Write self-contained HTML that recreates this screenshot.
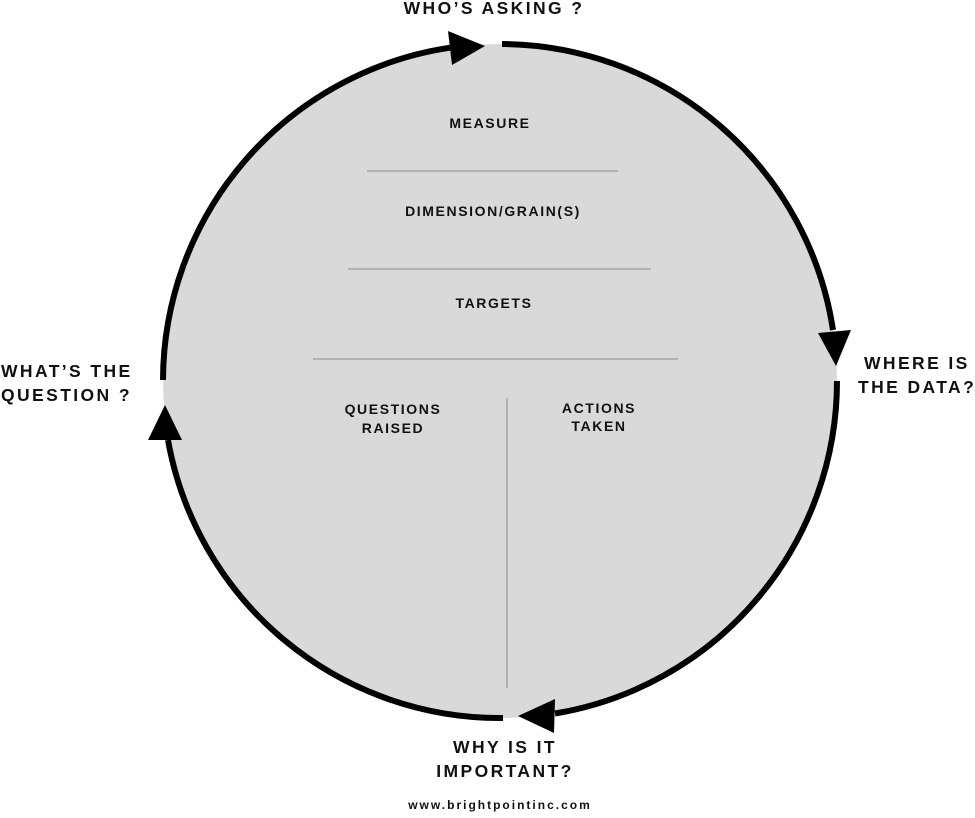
<!DOCTYPE html>
<html><head><meta charset="utf-8"><style>
html,body{margin:0;padding:0;background:#fff;}
body{width:975px;height:813px;overflow:hidden;}
svg text{font-family:"Liberation Sans",sans-serif;font-weight:bold;fill:#111;}
.in{font-size:14px;letter-spacing:1.6px;}
.out{font-size:17.5px;letter-spacing:2.4px;}
</style></head><body>
<svg width="975" height="813" viewBox="0 0 975 813" xmlns="http://www.w3.org/2000/svg">
<circle cx="500" cy="381" r="337" fill="#d9d9d9"/>
<g fill="none" stroke="#000" stroke-width="6">
<path d="M502 44 A337 337 0 0 1 833 330"/>
<path d="M837 381 A337 337 0 0 1 555 713.5"/>
<path d="M503 718 A337 337 0 0 1 168 440"/>
<path d="M163 380 A337 337 0 0 1 450 47.7"/>
</g>
<g fill="#000">
<polygon points="818,333 851,330 836,366"/>
<polygon points="518,716 555,699 554,733"/>
<polygon points="165,405 148,440 182,440"/>
<polygon points="485,46 448,31 452,65"/>
</g>
<g stroke="#9a9a9a" stroke-width="1.2">
<line x1="367" y1="171" x2="618" y2="171"/>
<line x1="348" y1="269" x2="651" y2="269"/>
<line x1="313" y1="359" x2="678" y2="359"/>
<line x1="507" y1="398" x2="507" y2="688"/>
</g>
<g text-anchor="middle">
<text x="490" y="128" class="in">MEASURE</text>
<text x="493" y="216" class="in">DIMENSION/GRAIN(S)</text>
<text x="494" y="308" class="in">TARGETS</text>
<text x="393" y="414" class="in">QUESTIONS</text>
<text x="393" y="433" class="in">RAISED</text>
<text x="599" y="413" class="in">ACTIONS</text>
<text x="599" y="431" class="in">TAKEN</text>
</g>
<g text-anchor="middle">
<text x="494" y="14" class="out">WHO’S ASKING ?</text>
<text x="505" y="753" class="out">WHY IS IT</text>
<text x="505" y="777" class="out">IMPORTANT?</text>
</g>
<text x="864" y="369" class="out">WHERE IS</text>
<text x="858" y="393" class="out">THE DATA?</text>
<text x="1" y="377" class="out">WHAT’S THE</text>
<text x="1" y="401" class="out">QUESTION ?</text>
<text x="500" y="809" text-anchor="middle" style="font-size:12px;letter-spacing:2px;">www.brightpointinc.com</text>
</svg>
</body></html>
